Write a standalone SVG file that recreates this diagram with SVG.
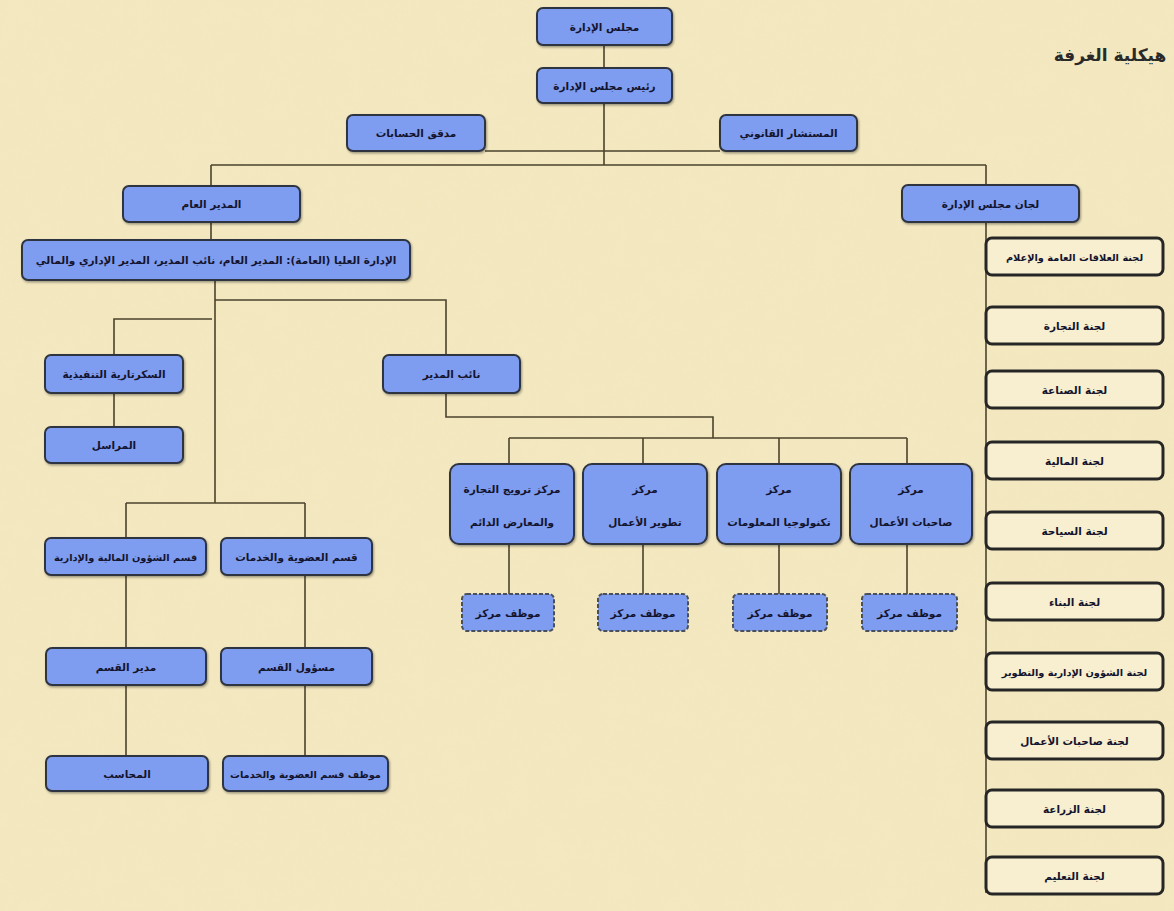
<svg xmlns="http://www.w3.org/2000/svg" width="1174" height="911" viewBox="0 0 1174 911">
<defs>
<style>
.b{fill:#7e9df0;stroke:#2f3440;stroke-width:2}
.c{fill:#f7efcf;stroke:#262626;stroke-width:3}
.d{fill:#7e9df0;stroke:#4a4f5c;stroke-width:2;stroke-dasharray:4 2}
.t{font-family:"DejaVu Sans",sans-serif;font-size:10.5px;font-weight:bold;fill:#14142e;text-anchor:middle;direction:rtl}
.s{font-size:9.8px}
.l{stroke:#4b432c;stroke-width:1.6;fill:none}
.ttl{font-family:"DejaVu Sans",sans-serif;font-size:17px;font-weight:bold;fill:#2a2a2a;text-anchor:middle;direction:rtl}
</style>
<filter id="sh" x="-10%" y="-20%" width="120%" height="150%">
<feDropShadow dx="1" dy="1.5" stdDeviation="1" flood-color="#000" flood-opacity="0.35"/>
</filter>
<filter id="tex" x="0" y="0" width="100%" height="100%">
<feTurbulence type="fractalNoise" baseFrequency="0.03" numOctaves="3" seed="4"/>
<feColorMatrix type="matrix" values="0 0 0 0 0.85  0 0 0 0 0.75  0 0 0 0 0.45  0 0 0 0.6 -0.1"/>
</filter>
</defs>
<rect x="0" y="0" width="1174" height="911" fill="#f3e8c0"/>
<rect x="0" y="0" width="1174" height="911" filter="url(#tex)" opacity="0.35"/>

<g id="connectors">
<path class="l" d="M604 45V68M604 103V165M485 151H720M211 165H986M211 165V186M986 165V185M211 222V240"/>
<path class="l" d="M215 280V503M215 300H446V355M212 319H114V355M114 393V427"/>
<path class="l" d="M126 503H305M126 503V538M305 503V538M126 575V648M126 685V756M305 575V648M305 685V756"/>
<path class="l" d="M446 393V417H713V438M509 438H907M509 438V464M643 438V464M779 438V464M907 438V464"/>
<path class="l" d="M509 544V594M643 544V594M779 544V594M907 544V594"/>
<path class="l" d="M986 222V893"/>
</g>

<text class="ttl" x="1110" y="61">هيكلية الغرفة</text>

<g id="n-board"><rect class="b" filter="url(#sh)" x="537" y="8" width="135" height="37" rx="6"/><text class="t" x="604.5" y="30.5">مجلس الإدارة</text></g>
<g id="n-chair"><rect class="b" filter="url(#sh)" x="537" y="68" width="135" height="35" rx="6"/><text class="t" x="604.5" y="89.5">رئيس مجلس الإدارة</text></g>
<g id="n-auditor"><rect class="b" filter="url(#sh)" x="347" y="115" width="138" height="36" rx="6"/><text class="t" x="416" y="137">مدقق الحسابات</text></g>
<g id="n-legal"><rect class="b" filter="url(#sh)" x="720" y="115" width="137" height="36" rx="6"/><text class="t" x="788.5" y="137">المستشار القانوني</text></g>
<g id="n-gm"><rect class="b" filter="url(#sh)" x="123" y="186" width="177" height="36" rx="6"/><text class="t" x="211.5" y="208">المدير العام</text></g>
<g id="n-top"><rect class="b" filter="url(#sh)" x="22" y="240" width="388" height="40" rx="6"/><text class="t" x="216" y="264">الإدارة العليا (العامة): المدير العام، نائب المدير، المدير الإداري والمالي</text></g>
<g id="n-committees"><rect class="b" filter="url(#sh)" x="902" y="185" width="177" height="37" rx="6"/><text class="t" x="990.5" y="207.5">لجان مجلس الإدارة</text></g>

<g id="c1"><rect class="c" x="986" y="238" width="177" height="37" rx="6"/><text class="t s" x="1074.5" y="260.5">لجنة العلاقات العامة والإعلام</text></g>
<g id="c2"><rect class="c" x="986" y="307" width="177" height="37" rx="6"/><text class="t" x="1074.5" y="329.5">لجنة التجارة</text></g>
<g id="c3"><rect class="c" x="986" y="371" width="177" height="37" rx="6"/><text class="t" x="1074.5" y="393.5">لجنة الصناعة</text></g>
<g id="c4"><rect class="c" x="986" y="442" width="177" height="37" rx="6"/><text class="t" x="1074.5" y="464.5">لجنة المالية</text></g>
<g id="c5"><rect class="c" x="986" y="512" width="177" height="37" rx="6"/><text class="t" x="1074.5" y="534.5">لجنة السياحة</text></g>
<g id="c6"><rect class="c" x="986" y="583" width="177" height="37" rx="6"/><text class="t" x="1074.5" y="605.5">لجنة البناء</text></g>
<g id="c7"><rect class="c" x="986" y="653" width="177" height="37" rx="6"/><text class="t s" x="1074.5" y="675.5">لجنة الشؤون الإدارية والتطوير</text></g>
<g id="c8"><rect class="c" x="986" y="722" width="177" height="37" rx="6"/><text class="t" x="1074.5" y="744.5">لجنة صاحبات الأعمال</text></g>
<g id="c9"><rect class="c" x="986" y="790" width="177" height="37" rx="6"/><text class="t" x="1074.5" y="812.5">لجنة الزراعة</text></g>
<g id="c10"><rect class="c" x="986" y="857" width="177" height="37" rx="6"/><text class="t" x="1074.5" y="879.5">لجنة التعليم</text></g>

<g id="n-sec"><rect class="b" filter="url(#sh)" x="45" y="355" width="138" height="38" rx="6"/><text class="t" x="114" y="378">السكرتارية التنفيذية</text></g>
<g id="n-courier"><rect class="b" filter="url(#sh)" x="45" y="427" width="138" height="36" rx="6"/><text class="t" x="114" y="449">المراسل</text></g>
<g id="n-deputy"><rect class="b" filter="url(#sh)" x="383" y="355" width="137" height="38" rx="6"/><text class="t" x="451.5" y="378">نائب المدير</text></g>

<g id="n-center1"><rect class="b" filter="url(#sh)" x="450" y="464" width="124" height="80" rx="9"/><text class="t" x="512" y="493">مركز ترويج التجارة</text><text class="t" x="512" y="526">والمعارض الدائم</text></g>
<g id="n-center2"><rect class="b" filter="url(#sh)" x="583" y="464" width="124" height="80" rx="9"/><text class="t" x="645" y="493">مركز</text><text class="t" x="645" y="526">تطوير الأعمال</text></g>
<g id="n-center3"><rect class="b" filter="url(#sh)" x="717" y="464" width="124" height="80" rx="9"/><text class="t" x="779" y="493">مركز</text><text class="t" x="779" y="526">تكنولوجيا المعلومات</text></g>
<g id="n-center4"><rect class="b" filter="url(#sh)" x="850" y="464" width="122" height="80" rx="9"/><text class="t" x="911" y="493">مركز</text><text class="t" x="911" y="526">صاحبات الأعمال</text></g>

<g id="n-staff1"><rect class="d" x="462" y="594" width="92" height="37" rx="5"/><text class="t" x="508" y="616.5">موظف مركز</text></g>
<g id="n-staff2"><rect class="d" x="598" y="594" width="90" height="37" rx="5"/><text class="t" x="643" y="616.5">موظف مركز</text></g>
<g id="n-staff3"><rect class="d" x="733" y="594" width="94" height="37" rx="5"/><text class="t" x="780" y="616.5">موظف مركز</text></g>
<g id="n-staff4"><rect class="d" x="862" y="594" width="95" height="37" rx="5"/><text class="t" x="909.5" y="616.5">موظف مركز</text></g>

<g id="n-fin"><rect class="b" filter="url(#sh)" x="45" y="538" width="161" height="37" rx="6"/><text class="t s" x="125.5" y="560.5">قسم الشؤون المالية والإدارية</text></g>
<g id="n-mem"><rect class="b" filter="url(#sh)" x="221" y="538" width="151" height="37" rx="6"/><text class="t" x="296.5" y="560.5">قسم العضوية والخدمات</text></g>
<g id="n-mgr"><rect class="b" filter="url(#sh)" x="46" y="648" width="160" height="37" rx="6"/><text class="t" x="126" y="670.5">مدير القسم</text></g>
<g id="n-resp"><rect class="b" filter="url(#sh)" x="221" y="648" width="151" height="37" rx="6"/><text class="t" x="296.5" y="670.5">مسؤول القسم</text></g>
<g id="n-acc"><rect class="b" filter="url(#sh)" x="46" y="756" width="162" height="35" rx="6"/><text class="t" x="127" y="777.5">المحاسب</text></g>
<g id="n-memstaff"><rect class="b" filter="url(#sh)" x="223" y="756" width="165" height="35" rx="6"/><text class="t s" x="305.5" y="777.5">موظف قسم العضوية والخدمات</text></g>
</svg>
